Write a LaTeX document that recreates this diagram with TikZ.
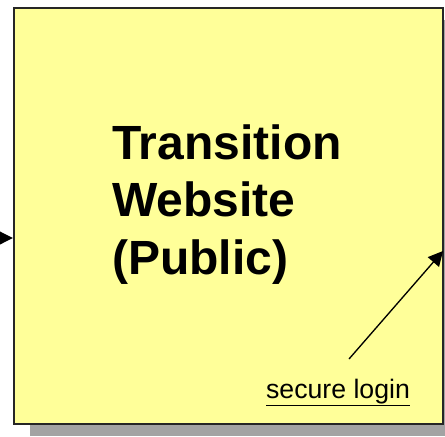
\documentclass[tikz,border=0pt]{standalone}
\usepackage{fontspec}
\setmainfont{Liberation Sans}
\usetikzlibrary{positioning, arrows.meta, shadows}

\definecolor{sitefill}{RGB}{255,255,153}
\definecolor{shadowgray}{RGB}{163,163,163}

\begin{document}
\begin{tikzpicture}[x=0.75pt, y=-0.75pt,
    sitebox/.style={draw=black!85, line width=1.8pt, fill=sitefill, minimum width=321.75pt, minimum height=312pt,
        drop shadow={shadow xshift=12pt, shadow yshift=-9pt, fill=shadowgray, opacity=1}},
    link/.style={-{Triangle[length=11pt, width=11pt]}, line width=1pt}]
    \useasboundingbox (0,0) rectangle (445,436);
    \clip (0,0) rectangle (445,436);

    \node[sitebox] (site) at (228.5, 216) {};
    \node[anchor=base west, inner sep=0pt, align=left, font=\bfseries\fontsize{36}{43}\selectfont] (title) at (112, 274) {Transition\\Website\\(Public)};
    \node[anchor=base, inner sep=0pt, font=\fontsize{20}{24}\selectfont] (login) at (338, 398) {\underline{secure login}};

    \coordinate (src) at (-30, 238);
    \coordinate (tail) at (349, 359);
    \coordinate (tip) at (443, 251);

    \draw[link, -{Triangle[length=13pt, width=13pt]}] (src) -- (src -| site.west);
    \draw[link] (tail) -- (tip);
\end{tikzpicture}
\end{document}
